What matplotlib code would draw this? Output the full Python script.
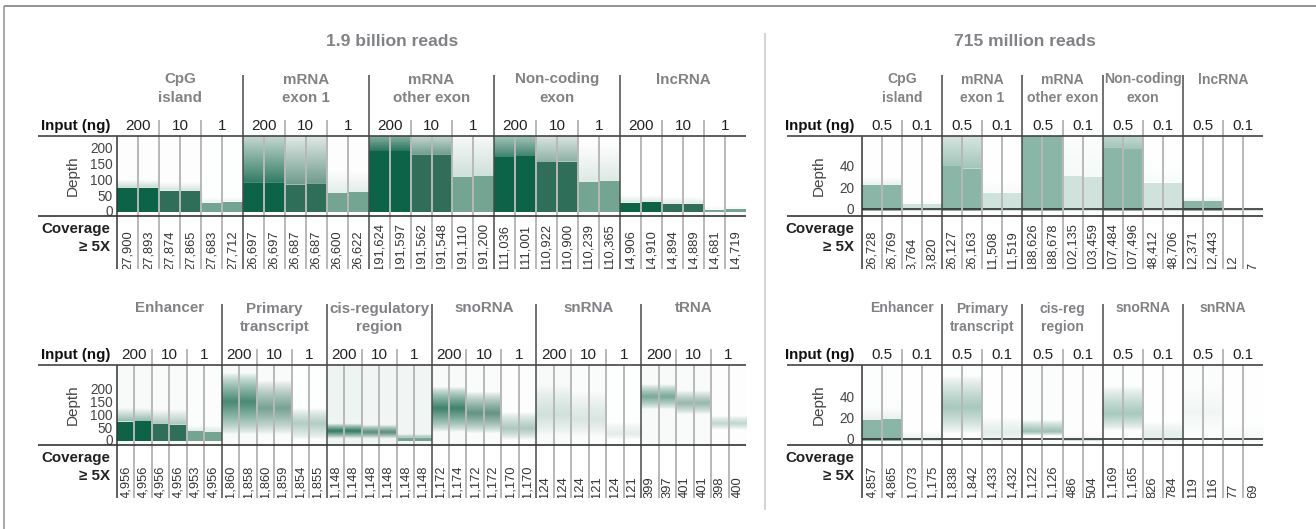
import numpy as np
import matplotlib
matplotlib.use("Agg")
import matplotlib.pyplot as plt
from matplotlib.colors import to_rgb
from matplotlib.lines import Line2D
from matplotlib.transforms import Bbox

plt.rcParams['font.family'] = ['Liberation Sans', 'DejaVu Sans']

W, H = 1316, 529

# ------------------------
# Labels
# ------------------------
left_titles = ["1.9 billion reads", "715 million reads"]
cats_tl = ["CpG\nisland", "mRNA\nexon 1", "mRNA\nother exon", "Non-coding\nexon", "lncRNA"]
cats_bl = ["Enhancer", "Primary\ntranscript", "cis-regulatory\nregion", "snoRNA", "snRNA", "tRNA"]
cats_tr = ["CpG\nisland", "mRNA\nexon 1", "mRNA\nother exon", "Non-coding\nexon", "lncRNA"]
cats_br = ["Enhancer", "Primary\ntranscript", "cis-reg\nregion", "snoRNA", "snRNA"]
levels_left = ["200", "10", "1"]
levels_right = ["0.5", "0.1"]
colors_left = ["#0c6347", "#2f6f5a", "#74a593"]
colors_right = ["#8ab6a7", "#cfe2dc"]

# ------------------------
# Coverage >= 5X, one value per replicate
# ------------------------
cov_tl = ["27,900", "27,893", "27,874", "27,865", "27,683", "27,712",
          "26,697", "26,697", "26,687", "26,687", "26,600", "26,622",
          "191,624", "191,597", "191,562", "191,548", "191,110", "191,200",
          "111,036", "111,001", "110,922", "110,900", "110,239", "110,365",
          "14,906", "14,910", "14,894", "14,889", "14,681", "14,719"]
cov_bl = ["4,956", "4,956", "4,956", "4,956", "4,953", "4,956",
          "1,860", "1,858", "1,860", "1,859", "1,854", "1,855",
          "1,148", "1,148", "1,148", "1,148", "1,148", "1,148",
          "1,172", "1,174", "1,172", "1,172", "1,170", "1,170",
          "124", "124", "124", "121", "124", "121",
          "399", "397", "401", "401", "398", "400"]
cov_tr = ["26,728", "26,769", "3,764", "3,820",
          "26,127", "26,163", "11,508", "11,519",
          "188,626", "188,678", "102,135", "103,459",
          "107,484", "107,496", "48,412", "48,706",
          "12,371", "12,443", "12", "7"]
cov_br = ["4,857", "4,865", "1,073", "1,175",
          "1,838", "1,842", "1,433", "1,432",
          "1,122", "1,126", "486", "504",
          "1,169", "1,165", "826", "784",
          "119", "116", "77", "69"]

# ------------------------
# Depth clouds. core = top of the solid block per replicate,
# the others are per input level: peak / low / high of the cloud, its strength, background haze
# ------------------------
core_tl = [73, 74, 64, 63, 26, 30,
           89, 89, 83, 86, 57, 60,
           190, 190, 178, 178, 108, 110,
           171, 173, 155, 157, 92, 95,
           26, 28, 22, 23, 4, 5]
peak_tl = [0] * 15
low_tl = [0] * 15
high_tl = [100, 95, 45, 300, 280, 135, 300, 280, 270, 300, 280, 220, 50, 45, 15]
cloud_tl = [.25, .2, .15, .85, .7, .2, .9, .7, .35, .8, .55, .25, .15, .15, .1]
haze_tl = [.01, .01, .01, .01, .01, .02, 0, 0, .02, 0, 0, .02, 0, 0, 0]

core_bl = [72, 73, 62, 60, 33, 32,
           -30, -30, -30, -30, -30, -30,
           -30, -30, -30, -30, 8, 8,
           -30, -30, -30, -30, -30, -30,
           -30, -30, -30, -30, -30, -30,
           -30, -30, -30, -30, -30, -30]
peak_bl = [0, 0, 0, 150, 125, 65, 35, 30, 5, 125, 105, 45, 100, 80, 25, 170, 145, 65]
low_bl = [0, 0, 0, 20, 20, 0, 5, 5, 0, 30, 25, 0, 10, 10, 0, 120, 100, 40]
high_bl = [130, 125, 60, 265, 235, 125, 65, 60, 25, 210, 190, 110, 230, 200, 70, 220, 195, 95]
cloud_bl = [.45, .4, .25, .75, .65, .55, .85, .8, .8, .8, .75, .6, .2, .18, .2, .55, .5, .45]
haze_bl = [.03, .03, .03, .03, .03, .01, .07, .07, .1, .03, .02, .02, .03, .02, .01, .03, .03, .02]

core_tr = [22, 22, 4.5, 4.5,
           39, 37, 15, 15,
           70, 70, 30, 29,
           56, 55, 24, 24,
           7, 7, -1, -1]
peak_tr = [0] * 10
low_tr = [0] * 10
high_tr = [30, 9, 90, 28, 70, 90, 90, 42, 12, 3]
cloud_tr = [.2, .15, .8, .15, 1, .2, .8, .15, .15, .1]
haze_tr = [.01, .01, 0, .02, 0, .05, 0, .02, 0, 0]

core_br = [18, 19, 1, 1,
           -30, -30, -30, -30,
           -30, -30, 0, 0,
           -30, -30, -30, -30,
           -30, -30, -30, -30]
peak_br = [0, 0, 30, 6, 7, 0, 24, 3, 25, 1]
low_br = [0, 0, 5, -5, 3, 0, 8, -5, 5, -5]
high_br = [32, 8, 60, 20, 18, 5, 50, 17, 55, 15]
cloud_br = [.2, .4, .75, .6, .85, .3, .75, .6, .12, .2]
haze_br = [.02, .02, .02, .02, .03, .06, .02, .02, .03, .02]

# y ticks
ticks_left = [0, 50, 100, 150, 200]
ticks_right = [0, 20, 40]

fig = plt.figure(figsize=(W / 100, H / 100), dpi=100, facecolor="white")


def fx(x):
    return x / W


def fy(y):
    return 1 - y / H


def line(x0, y0, x1, y1, color, lw):
    fig.add_artist(Line2D([fx(x0), fx(x1)], [fy(y0), fy(y1)], color=color, lw=lw,
                          solid_capstyle="butt", transform=fig.transFigure))


def label(x, y, s, **kw):
    return fig.text(fx(x), fy(y), s, **kw)


def draw_column(ax, x, color, core, peak, low, high, cloud, haze, y0, y1):
    ys = np.linspace(y0, y1, 240)
    solid = peak <= core
    if solid:
        peak = low = core
    up = np.clip((high - ys) / max(high - peak, 1e-6), 0, 1)
    down = np.clip((ys - low) / max(peak - low, 1e-6), 0, 1)
    # sparse clouds are wider around their peak than a straight ramp
    shape = np.where(ys >= peak, up, down)
    if not solid:
        shape = shape ** 0.75
    alpha = np.maximum(shape * cloud, haze)
    rgba = np.zeros((len(ys), 1, 4))
    rgba[:, 0, :3] = to_rgb(color)
    rgba[:, 0, 3] = alpha
    ax.imshow(rgba, origin="lower", aspect="auto", interpolation="bilinear",
              extent=[x, x + 1, y0, y1], zorder=1)
    if core > y0:
        base = 0.3 * y0
        ax.bar(x + 0.5, core - base, bottom=base, width=1, color=color, lw=0, zorder=2)


def block(left, right, top, bottom, y_at_top, y_at_bottom, ticks, cats, levels, colors,
          core, peak, low, high, cloud, haze, cov, zero_line, title_top):
    n_cat = len(cats)
    n_lev = len(levels)
    n_col = n_cat * n_lev * 2
    ax = fig.add_axes([fx(left), fy(bottom), fx(right - left), (bottom - top) / H])
    for i in range(n_col):
        prof = i // 2
        lev = prof % n_lev
        draw_column(ax, i, colors[lev], core[i], peak[prof], low[prof], high[prof],
                    cloud[prof], haze[prof], y_at_bottom, y_at_top)
    if zero_line:
        ax.axhline(0, color="#222222", lw=1.1, zorder=3)
    ax.set_xlim(0, n_col)
    ax.set_ylim(y_at_bottom, y_at_top)
    ax.set_xticks([])
    ax.set_yticks(ticks)
    ax.tick_params(axis="y", length=0, pad=3 if n_lev == 3 else 5.5, labelsize=9.8,
                   labelcolor="#444444")
    ax.patch.set_alpha(0)
    for s in ax.spines.values():
        s.set_visible(False)

    col_w = (right - left) / n_col
    label_end = bottom + 53
    for i in range(1, n_col):
        x = left + i * col_w
        if i % (n_lev * 2) == 0:
            continue
        if i % 2 == 0:
            line(x, top - 16, x, label_end, "#b8b8b8", 1.4)
        else:
            line(x, top, x, label_end, "#b8b8b8", 1.4)
    for i in range(1, n_cat):
        x = left + i * n_lev * 2 * col_w
        line(x, title_top, x, label_end, "#4a4a4a", 1.1)
    line(left, top, left, label_end, "#333333", 1.1)

    hx0 = left - 79 if n_lev == 3 else left - 75
    line(hx0, top, right, top, "#444444", 1.2)
    line(hx0, bottom, right, bottom, "#333333", 1.2)

    # category titles, level labels, coverage numbers
    title_size = 10.9 if n_lev == 3 else 10.1
    for c, name in enumerate(cats):
        cx = left + (c + 0.5) * n_lev * 2 * col_w
        parts = name.split("\n")
        for k, part in enumerate(parts):
            label(cx, title_top + 4.5 + k * 18, part, ha="center", va="center", fontsize=title_size,
                  fontweight="bold", color="#808285")
        for l, lev in enumerate(levels):
            lx = left + (c * n_lev + l + 0.5) * 2 * col_w
            label(lx, top - 10, lev, ha="center", va="center", fontsize=11, color="#222222")
    for i, s in enumerate(cov):
        t = label(left + (i + 0.5) * col_w, label_end + 0.5, s, ha="center", va="bottom",
                  rotation=90, fontsize=9.3, color="#333333")
        t.set_clip_box(Bbox([[0, H - label_end], [W, H]]))
        t.set_clip_on(True)

    # row headers
    head_x = left - 7 if n_lev == 3 else left - 8
    label(head_x, top - 10, "Input (ng)", ha="right", va="center", fontsize=10.9,
          fontweight="bold", color="#111111")
    label(head_x, bottom + 13, "Coverage", ha="right", va="center", fontsize=10.9,
          fontweight="bold", color="#222222")
    label(head_x, bottom + 31, "≥ 5X", ha="right", va="center", fontsize=10.9,
          fontweight="bold", color="#222222")
    depth_x = left - 44 if n_lev == 3 else left - 43
    label(depth_x, (top + bottom) / 2, "Depth", ha="center", va="center", rotation=90,
          fontsize=11, color="#444444")


block(117, 746, 136, 216, 238, -16, ticks_left, cats_tl, levels_left, colors_left,
      core_tl, peak_tl, low_tl, high_tl, cloud_tl, haze_tl, cov_tl, False, 75)
block(117, 746, 365, 445, 294, -20, ticks_left, cats_bl, levels_left, colors_left,
      core_bl, peak_bl, low_bl, high_bl, cloud_bl, haze_bl, cov_bl, False, 304)
block(862, 1263, 136, 216, 67, -6.5, ticks_right, cats_tr, levels_right, colors_right,
      core_tr, peak_tr, low_tr, high_tr, cloud_tr, haze_tr, cov_tr, True, 75)
block(862, 1263, 365, 445, 70, -5.7, ticks_right, cats_br, levels_right, colors_right,
      core_br, peak_br, low_br, high_br, cloud_br, haze_br, cov_br, True, 304)

label(392, 42, left_titles[0], ha="center", va="center", fontsize=12.6, fontweight="bold", color="#808285")
label(1025, 42, left_titles[1], ha="center", va="center", fontsize=12.6, fontweight="bold", color="#808285")

line(765, 33, 765, 510, "#c8c8c8", 1.1)

# outer frame, top and left only
line(4, 6, W, 6, "#7f7f7f", 1.2)
line(4, 6, 4, H, "#9a9a9a", 1.2)

fig.savefig("out.png", dpi=100)
